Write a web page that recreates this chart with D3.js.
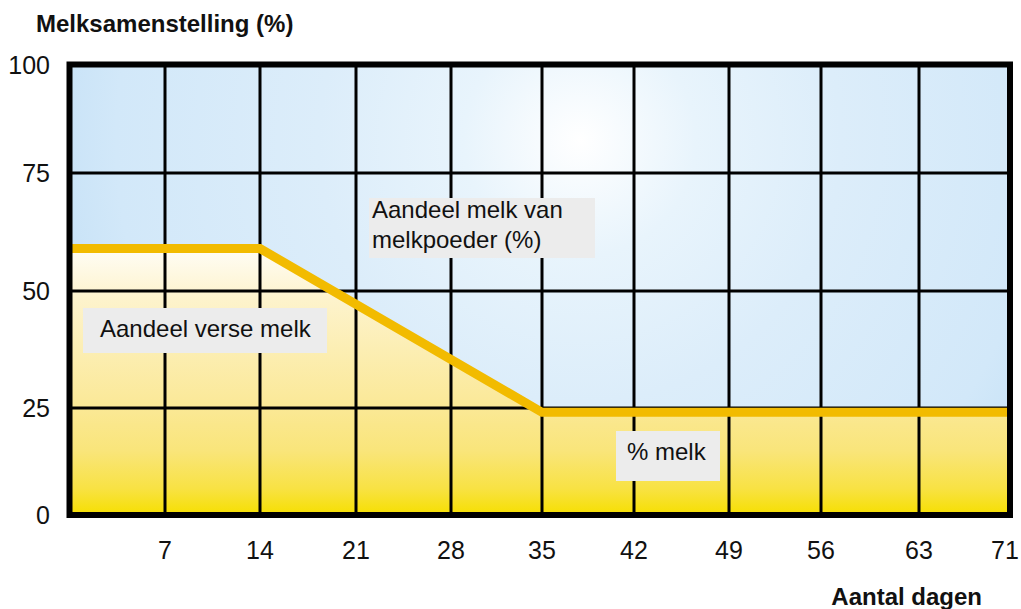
<!DOCTYPE html>
<html>
<head>
<meta charset="utf-8">
<script src="https://cdn.jsdelivr.net/npm/d3@7"></script>
<style>
  html, body { margin: 0; padding: 0; background: #ffffff; }
  svg { display: block; font-family: "Liberation Sans", Arial, sans-serif; }
</style>
</head>
<body>
<svg id="chart" width="1021" height="609"></svg>
<script>
// ---- data ----
const dayTicks = [0, 7, 14, 21, 28, 35, 42, 49, 56, 63, 71];
const xTickLabels = ["7", "14", "21", "28", "35", "42", "49", "56", "63", "71"];
const yTicks = [0, 25, 50, 75, 100];
const days = [0, 14, 35, 71];
const freshMilkShare = [59, 59, 24, 24];
const chartTitle = "Melksamenstelling (%)";
const xTitle = "Aantal dagen";
const labelPowder = ["Aandeel melk van", "melkpoeder (%)"];
const labelFresh = ["Aandeel verse melk"];
const labelMilk = ["% melk"];

// ---- layout ----
const svg = d3.select("#chart");
const pL = 69.5, pR = 1010, pT = 64.5, pB = 515;

const x = d3.scaleLinear()
  .domain(dayTicks)
  .range([69.5, 165, 260, 356, 451, 542, 634, 729, 821, 919, 1010]);
const y = d3.scaleLinear()
  .domain(yTicks)
  .range([515, 408, 291, 173, 64.5]);

const defs = svg.append("defs");
const bg = defs.append("radialGradient").attr("id", "bgGrad")
  .attr("gradientUnits", "userSpaceOnUse")
  .attr("cx", 580).attr("cy", 140).attr("r", 580);
[[0, "#ffffff"], [0.2, "#e8f4fc"], [0.45, "#dcedfa"], [0.8, "#d2e8f9"], [1, "#c0def5"]]
  .forEach(([o, c]) => bg.append("stop").attr("offset", o).attr("stop-color", c));

const yg = defs.append("linearGradient").attr("id", "yelGrad")
  .attr("gradientUnits", "userSpaceOnUse")
  .attr("x1", 0).attr("x2", 0).attr("y1", y(59)).attr("y2", y(0));
[[0, "#fffdf6"], [0.19, "#fdf3cc"], [0.57, "#fbe99a"], [0.76, "#f9e57a"], [0.9, "#f8e244"], [1, "#f6df00"]]
  .forEach(([o, c]) => yg.append("stop").attr("offset", o).attr("stop-color", c));

// background
svg.append("rect")
  .attr("x", pL).attr("y", pT)
  .attr("width", pR - pL).attr("height", pB - pT)
  .attr("fill", "url(#bgGrad)");

const pts = days.map((d, i) => [d, freshMilkShare[i]]);

// area under line
svg.append("path")
  .datum(pts)
  .attr("fill", "url(#yelGrad)")
  .attr("d", d3.area().x(d => x(d[0])).y0(y(0)).y1(d => y(d[1])));

// grid lines
svg.append("g").selectAll("line")
  .data(dayTicks.slice(1, -1))
  .join("line")
  .attr("x1", d => x(d)).attr("x2", d => x(d))
  .attr("y1", pT).attr("y2", pB)
  .attr("stroke", "#000").attr("stroke-width", 3);
svg.append("g").selectAll("line")
  .data(yTicks.slice(1, -1))
  .join("line")
  .attr("x1", pL).attr("x2", pR)
  .attr("y1", d => y(d)).attr("y2", d => y(d))
  .attr("stroke", "#000").attr("stroke-width", 3);

// line
svg.append("path")
  .datum(pts)
  .attr("fill", "none")
  .attr("stroke", "#f2bb00")
  .attr("stroke-width", 9)
  .attr("stroke-linejoin", "miter")
  .attr("d", d3.line().x(d => x(d[0])).y(d => y(d[1])));

// frame
svg.append("rect")
  .attr("x", pL).attr("y", pT)
  .attr("width", pR - pL).attr("height", pB - pT)
  .attr("fill", "none").attr("stroke", "#000").attr("stroke-width", 6);

// y tick labels
svg.append("g").selectAll("text")
  .data(yTicks)
  .join("text")
  .attr("x", 50).attr("y", d => y(d))
  .attr("dy", "0.36em")
  .attr("text-anchor", "end")
  .attr("font-size", 25).attr("fill", "#111")
  .text(d => d);

// x tick labels
svg.append("g").selectAll("text")
  .data(dayTicks.slice(1))
  .join("text")
  .attr("x", (d, i) => i === dayTicks.length - 2 ? x(d) - 5 : x(d))
  .attr("y", 559)
  .attr("text-anchor", "middle")
  .attr("font-size", 25).attr("fill", "#111")
  .text((d, i) => xTickLabels[i]);

// titles
svg.append("text")
  .attr("x", 36).attr("y", 32)
  .attr("font-size", 24).attr("font-weight", "bold").attr("fill", "#111")
  .text(chartTitle);
svg.append("text")
  .attr("x", 982).attr("y", 605)
  .attr("text-anchor", "end")
  .attr("font-size", 24).attr("font-weight", "bold").attr("fill", "#111")
  .text(xTitle);

// label boxes
function labelBox(lines, bx, by, bw, bh, tx, ty) {
  const g = svg.append("g");
  g.append("rect").attr("x", bx).attr("y", by).attr("width", bw).attr("height", bh)
    .attr("fill", "#ececec");
  g.selectAll("text").data(lines).join("text")
    .attr("x", tx).attr("y", (d, i) => ty + i * 30)
    .attr("font-size", 24).attr("fill", "#111")
    .text(d => d);
}
labelBox(labelPowder, 369, 198, 226, 60, 372, 218);
labelBox(labelFresh, 83, 308, 244, 45, 100, 337);
labelBox(labelMilk, 616, 431, 104, 50, 627, 460);
</script>
</body>
</html>
